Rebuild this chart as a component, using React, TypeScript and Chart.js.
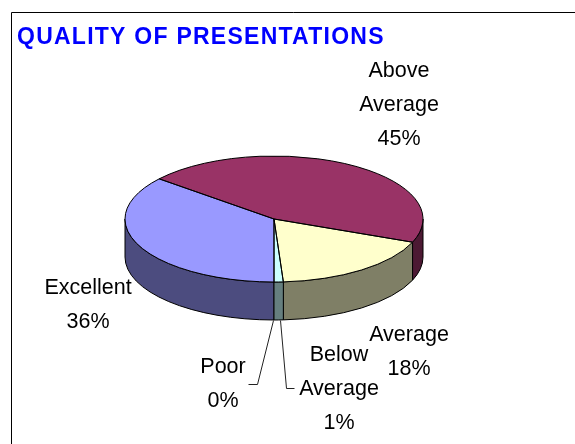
import React, { useEffect, useRef } from "react";
import { Chart, registerables } from "chart.js";

Chart.register(...registerables);

const TITLE = "QUALITY OF PRESENTATIONS";
const categories = ["Excellent", "Above Average", "Average", "Below Average", "Poor"];
const percentages = [36, 45, 18, 1, 0];
const topColors = ["#9999FF", "#993366", "#FFFFCC", "#CCFFFF", "#660066"];
const wallColors = ["#4C4C7F", "#4C1933", "#7F7F66", "#667F7F", "#330033"];
const labelLines = [["Excellent"], ["Above", "Average"], ["Average"], ["Below", "Average"], ["Poor"]];

// Layout only: centre x / first-line y of each label
const labelAnchors = [
  [88, 288],
  [399, 71.5],
  [409, 335.5],
  [339, 355.5],
  [223, 367.5],
];
const LINE_STEP = 34;
const SQUASH = 63 / 149;
const DEPTH = 38;
const FONT = '"Liberation Sans", Arial, sans-serif';
const leaders = [
  [[273, 320], [257, 384], [248, 384]],
  [[280, 320], [286, 388], [294, 388]],
];

const pie3d = {
  id: "pie3d",
  beforeDraw(chart: any) {
    const { ctx } = chart;
    ctx.save();
    ctx.strokeStyle = "#000";
    ctx.lineWidth = 1;
    ctx.beginPath();
    ctx.moveTo(11.5, 444);
    ctx.lineTo(11.5, 12.5);
    ctx.lineTo(575, 12.5);
    ctx.stroke();
    ctx.restore();
    chart.titleBlock.left = 17;
    ctx.letterSpacing = "1.25px";
  },
  beforeDatasetsDraw(chart: any) {
    const { ctx } = chart;
    ctx.letterSpacing = "0px";
    const arcs = chart.getDatasetMeta(0).data;
    ctx.save();
    ctx.lineWidth = 1;
    ctx.strokeStyle = "#000";
    arcs.forEach((arc: any, i: number) => {
      const ry = arc.outerRadius * SQUASH;
      // visible wall = the part of the arc in the front half (0..PI, also 2PI..3PI)
      for (const shift of [0, Math.PI * 2]) {
        const a = Math.max(arc.startAngle - shift, 0);
        const b = Math.min(arc.endAngle - shift, Math.PI);
        if (b <= a) continue;
        ctx.beginPath();
        ctx.ellipse(arc.x, arc.y, arc.outerRadius, ry, 0, a, b);
        ctx.ellipse(arc.x, arc.y + DEPTH, arc.outerRadius, ry, 0, b, a, true);
        ctx.closePath();
        ctx.fillStyle = wallColors[i];
        ctx.fill();
        ctx.stroke();
      }
    });
    ctx.restore();
    const { x, y } = arcs[0];
    ctx.save();
    ctx.translate(x, y);
    ctx.scale(1, SQUASH);
    ctx.translate(-x, -y);
  },
  afterDatasetsDraw(chart: any) {
    const { ctx } = chart;
    ctx.restore();
    const arcs = chart.getDatasetMeta(0).data;
    ctx.save();
    ctx.lineWidth = 1;
    ctx.strokeStyle = "#000";
    arcs.forEach((arc: any) => {
      if (arc.endAngle - arc.startAngle <= 0) return;
      ctx.beginPath();
      ctx.moveTo(arc.x, arc.y);
      ctx.ellipse(arc.x, arc.y, arc.outerRadius, arc.outerRadius * SQUASH, 0, arc.startAngle, arc.endAngle);
      ctx.closePath();
      ctx.stroke();
    });
    ctx.strokeStyle = "#222";
    leaders.forEach((pts) => {
      ctx.beginPath();
      pts.forEach(([px, py], k) => (k ? ctx.lineTo(px + 0.5, py + 0.5) : ctx.moveTo(px + 0.5, py + 0.5)));
      ctx.stroke();
    });
    ctx.fillStyle = "#000";
    ctx.font = `21.5px ${FONT}`;
    ctx.textAlign = "center";
    ctx.textBaseline = "middle";
    categories.forEach((_, i) => {
      const lines = [...labelLines[i], `${percentages[i]}%`];
      const [lx, ly] = labelAnchors[i];
      lines.forEach((t, k) => ctx.fillText(t, lx, ly + k * LINE_STEP));
    });
    ctx.restore();
  },
};

export default function App() {
  const ref = useRef<HTMLCanvasElement>(null);
  useEffect(() => {
    const chart = new Chart(ref.current as HTMLCanvasElement, {
      type: "pie",
      data: {
        labels: categories,
        datasets: [
          {
            data: percentages,
            backgroundColor: topColors,
            borderWidth: 0,
            clip: false,
          } as any,
        ],
      },
      options: {
        responsive: false,
        animation: false,
        events: [],
        rotation: 180,
        layout: { padding: { left: 125, right: 152, top: 24, bottom: 76 } },
        plugins: {
          legend: { display: false },
          tooltip: { enabled: false },
          title: {
            display: true,
            text: TITLE,
            align: "start",
            color: "#0000FF",
            font: { family: FONT, size: 23, weight: "bold", lineHeight: 1.2 },
            padding: { top: 0, bottom: 18.4 },
          },
        },
      },
      plugins: [pie3d],
    } as any);
    return () => chart.destroy();
  }, []);
  return (
    <div style={{ position: "absolute", left: 0, top: 0, width: 575, height: 444 }}>
      <canvas ref={ref} width={575} height={444} style={{ display: "block" }} />
    </div>
  );
}
